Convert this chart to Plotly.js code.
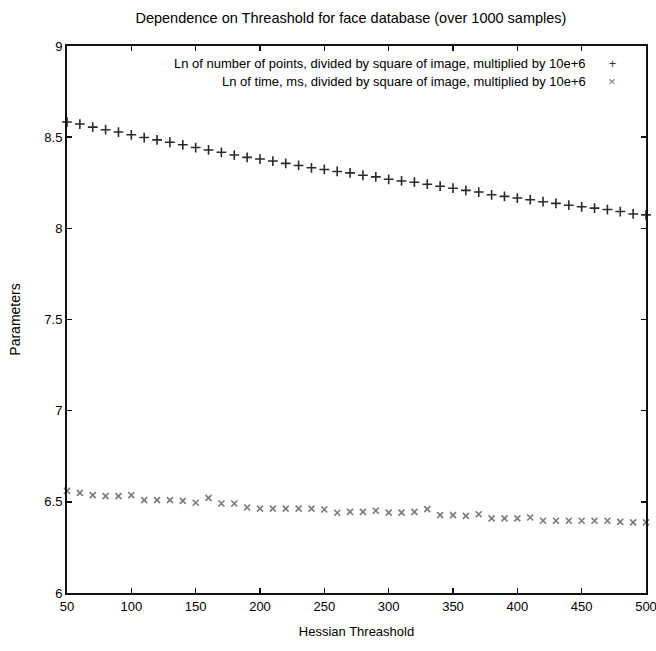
<!DOCTYPE html>
<html>
<head>
<meta charset="utf-8">
<script src="https://cdn.plot.ly/plotly-3.0.1.min.js"></script>
<style>html,body{margin:0;padding:0;background:#fff;}#chart{width:656px;height:651px;}</style>
</head>
<body>
<div id="chart"></div>
<script>
const thresholds = [50,60,70,80,90,100,110,120,130,140,150,160,170,180,190,200,210,220,230,240,250,260,270,280,290,300,310,320,330,340,350,360,370,380,390,400,410,420,430,440,450,460,470,480,490,500];
const lnPoints = [8.583,8.572,8.555,8.541,8.528,8.513,8.498,8.485,8.472,8.458,8.443,8.430,8.417,8.402,8.389,8.380,8.369,8.356,8.345,8.332,8.323,8.312,8.304,8.291,8.282,8.269,8.260,8.253,8.242,8.231,8.220,8.208,8.199,8.184,8.175,8.166,8.157,8.146,8.137,8.127,8.118,8.111,8.103,8.092,8.079,8.074];
const lnTime = [6.560,6.549,6.537,6.531,6.531,6.537,6.509,6.509,6.509,6.505,6.495,6.522,6.491,6.491,6.469,6.463,6.463,6.463,6.463,6.463,6.458,6.440,6.445,6.445,6.451,6.441,6.441,6.445,6.460,6.427,6.427,6.423,6.432,6.409,6.409,6.409,6.414,6.396,6.396,6.396,6.396,6.396,6.396,6.390,6.387,6.387];
const seriesNames = ["Ln of number of points, divided by square of image, multiplied by 10e+6","Ln of time, ms, divided by square of image, multiplied by 10e+6"];
const xTicks = [50,100,150,200,250,300,350,400,450,500];
const yTicks = [6,6.5,7,7.5,8,8.5,9];
const yTickText = ["6","6.5","7","7.5","8","8.5","9"];

const font = "Liberation Sans, Arial, sans-serif";
const traces = [
  {x: thresholds, y: lnPoints, name: seriesNames[0], type: "scatter", mode: "markers",
   marker: {symbol: "cross-thin-open", size: 7, color: "#2a2a2a", line: {width: 1.6, color: "#2a2a2a"}}, cliponaxis: false},
  {x: thresholds, y: lnTime, name: seriesNames[1], type: "scatter", mode: "markers",
   marker: {symbol: "x-thin-open", size: 6, color: "#7a7a7a", line: {width: 1.6, color: "#7a7a7a"}}, cliponaxis: false}
];
const axisCommon = {showline: true, linewidth: 2, linecolor: "#111", mirror: "allticks", ticks: "inside",
  ticklen: 5, tickwidth: 1.5, tickcolor: "#111", showgrid: false, zeroline: false,
  ticklabeloverflow: "allow",
  tickfont: {family: font, size: 13, color: "#000"}};
const layout = {
  width: 656, height: 651,
  margin: {l: 67, r: 10, t: 46, b: 58},
  paper_bgcolor: "#fff", plot_bgcolor: "#fff",
  showlegend: false,
  title: {text: "Dependence on Threashold for face database (over 1000 samples)", font: {family: font, size: 14.5, color: "#000"}, x: 0.535, xanchor: "center", y: 0.973, yanchor: "middle"},
  xaxis: Object.assign({}, axisCommon, {range: [50, 500], tickvals: xTicks, ticktext: xTicks.map(String),
    title: {text: "Hessian Threashold", font: {family: font, size: 13, color: "#000"}, standoff: 14}}),
  yaxis: Object.assign({}, axisCommon, {range: [6, 9], tickvals: yTicks, ticktext: yTickText,
    title: {text: "Parameters", font: {family: font, size: 14, color: "#000"}, standoff: 20}}),
  annotations: [
    {xref: "paper", yref: "paper", x: 0.899, y: 0.968, xanchor: "right", yanchor: "middle", showarrow: false,
     text: seriesNames[0], font: {family: font, size: 13, color: "#000"}},
    {xref: "paper", yref: "paper", x: 0.899, y: 0.935, xanchor: "right", yanchor: "middle", showarrow: false,
     text: seriesNames[1], font: {family: font, size: 13, color: "#000"}},
    {xref: "paper", yref: "paper", x: 0.942, y: 0.968, xanchor: "center", yanchor: "middle", showarrow: false,
     text: "+", font: {family: font, size: 12, color: "#2a2a2a"}},
    {xref: "paper", yref: "paper", x: 0.942, y: 0.935, xanchor: "center", yanchor: "middle", showarrow: false,
     text: "×", font: {family: font, size: 13, color: "#7a7a7a"}}
  ]
};
Plotly.newPlot("chart", traces, layout, {displayModeBar: false, staticPlot: true});
</script>
</body>
</html>
